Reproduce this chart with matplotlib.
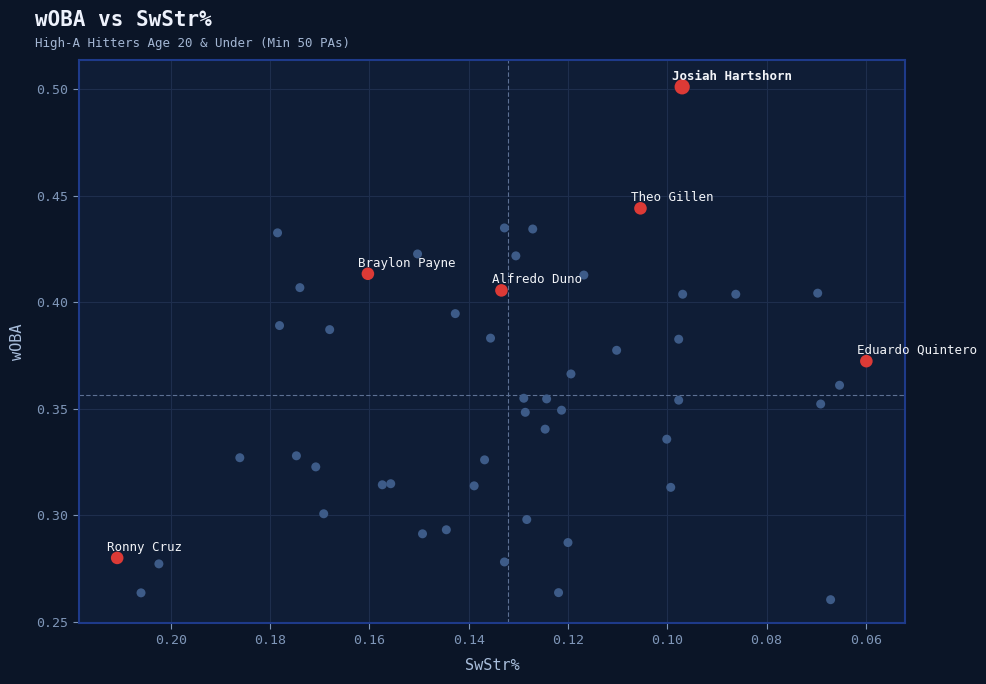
import matplotlib
matplotlib.use("Agg")
import matplotlib.pyplot as plt
import numpy as np

# swinging strike rate and wOBA
swstr = [0.1785, 0.1503, 0.1740, 0.1781, 0.1680, 0.1427, 0.1356, 0.1328, 0.1305, 0.1289,
         0.1286, 0.1271, 0.1168, 0.0969, 0.0862, 0.0697, 0.0977, 0.1102, 0.1194, 0.0653,
         0.0691, 0.1243, 0.1213, 0.1246, 0.0977, 0.1001, 0.0993, 0.1200, 0.1219, 0.0671,
         0.1861, 0.1747, 0.1708, 0.1574, 0.1557, 0.1692, 0.1493, 0.1445, 0.1389, 0.1368,
         0.1328, 0.1283, 0.2024, 0.2060]
woba = [0.4326, 0.4227, 0.4069, 0.3891, 0.3872, 0.3947, 0.3832, 0.4349, 0.4218, 0.3550,
        0.3484, 0.4344, 0.4128, 0.4038, 0.4038, 0.4043, 0.3827, 0.3775, 0.3664, 0.3611,
        0.3523, 0.3547, 0.3494, 0.3405, 0.3541, 0.3358, 0.3132, 0.2873, 0.2638, 0.2605,
        0.3271, 0.3280, 0.3228, 0.3144, 0.3149, 0.3008, 0.2914, 0.2933, 0.3139, 0.3261,
        0.2782, 0.2981, 0.2773, 0.2637]

names = ["Josiah Hartshorn", "Theo Gillen", "Braylon Payne", "Alfredo Duno",
         "Eduardo Quintero", "Ronny Cruz"]
hl_swstr = [0.0970, 0.1054, 0.1603, 0.1334, 0.0599, 0.2108]
hl_woba = [0.5011, 0.4441, 0.4134, 0.4056, 0.3724, 0.2801]

avg_swstr = 0.1320
avg_woba = 0.3563

x_ticks = [0.20, 0.18, 0.16, 0.14, 0.12, 0.10, 0.08, 0.06]
y_ticks = [0.25, 0.30, 0.35, 0.40, 0.45, 0.50]

FIG_BG = "#0b1527"
AX_BG = "#0f1d36"
SPINE = "#1e3a8a"
TICK = "#7f96b8"

plt.rcParams['font.family'] = ['DejaVu Sans Mono', 'DejaVu Sans']

fig = plt.figure(figsize=(9.87, 6.84), dpi=100, facecolor=FIG_BG)
ax = fig.add_axes([0.080, 0.089, 0.837, 0.823])
ax.set_facecolor(AX_BG)

ax.grid(True, color="#1e2e4d", linewidth=0.8)
ax.set_axisbelow(True)

ax.axvline(avg_swstr, color="#5d7194", linestyle=(0, (4, 2)), linewidth=0.8, zorder=1)
ax.axhline(avg_woba, color="#5d7194", linestyle=(0, (4, 2)), linewidth=0.8, zorder=1)

ax.scatter(swstr, woba, s=42, color="#3d5b88", edgecolors="none", zorder=2)

sizes = [120 if i == 0 else 82 for i in range(len(names))]
ax.scatter(hl_swstr, hl_woba, s=sizes, color="#dc3a36", edgecolors="none", zorder=3)
for i, name in enumerate(names):
    ax.annotate(name, (hl_swstr[i], hl_woba[i]), xytext=(-7, 3), textcoords="offset points",
                ha="left", va="bottom", fontsize=9, color="#f2f4f8",
                fontweight="bold" if i == 0 else "normal", zorder=4)

ax.set_xlim(0.2185, 0.0521)
ax.set_ylim(0.2495, 0.5136)
ax.set_xticks(x_ticks)
ax.set_yticks(y_ticks)
ax.xaxis.set_major_formatter(matplotlib.ticker.FormatStrFormatter("%.2f"))
ax.yaxis.set_major_formatter(matplotlib.ticker.FormatStrFormatter("%.2f"))
ax.tick_params(colors=TICK, labelsize=9.5, length=4, width=0.8)

for sp in ax.spines.values():
    sp.set_color(SPINE)
    sp.set_linewidth(1.5)

ax.set_xlabel("SwStr%", fontsize=11, color="#a9bedc", labelpad=8)
ax.set_ylabel("wOBA", fontsize=11, color="#a9bedc", labelpad=8)

fig.text(0.0355, 0.971, "wOBA vs SwStr%", fontsize=15, fontweight="bold",
         color="#eef2fc", ha="left", va="center")
fig.text(0.0355, 0.937, "High-A Hitters Age 20 & Under (Min 50 PAs)", fontsize=9,
         color="#a3b6d3", ha="left", va="center")

fig.savefig("out.png", dpi=100, facecolor=FIG_BG)
